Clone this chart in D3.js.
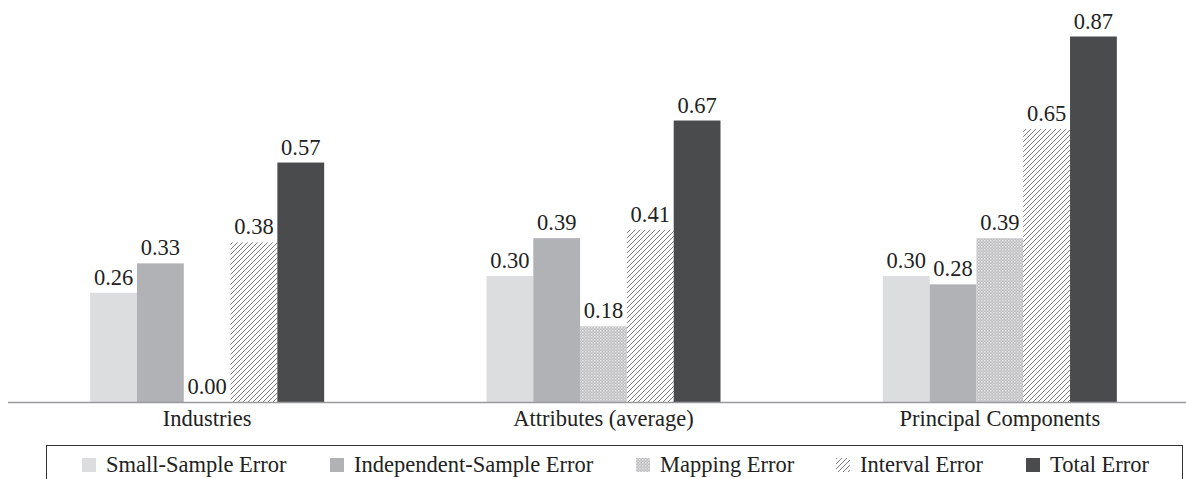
<!DOCTYPE html>
<html><head><meta charset="utf-8">
<script src="https://cdn.jsdelivr.net/npm/d3@7"></script>
<style>body{margin:0;background:#fff}svg{display:block}
svg text{font-family:"Liberation Serif","DejaVu Serif",serif;fill:#222}</style>
</head><body>
<svg id="c" width="1186" height="479"></svg>
<script>
const categories = ["Industries", "Attributes (average)", "Principal Components"];
const seriesNames = ["Small-Sample Error", "Independent-Sample Error", "Mapping Error", "Interval Error", "Total Error"];
const smallSample = [0.26, 0.30, 0.30];
const independentSample = [0.33, 0.39, 0.28];
const mapping = [0.00, 0.18, 0.39];
const interval = [0.38, 0.41, 0.65];
const total = [0.57, 0.67, 0.87];
const seriesValues = [smallSample, independentSample, mapping, interval, total];

const svg = d3.select("#c");
const W = 1186, H = 479;

const defs = svg.append("defs");
const hatch = defs.append("pattern").attr("id","hatch").attr("patternUnits","userSpaceOnUse")
  .attr("width",5).attr("height",5);
hatch.append("rect").attr("width",5).attr("height",5).attr("fill","#fff");
hatch.append("path").attr("d","M-1,1 l2,-2 M0,5 l5,-5 M4,6 l2,-2").attr("stroke","#6e6e70").attr("stroke-width",0.9);
const dots = defs.append("pattern").attr("id","dots").attr("patternUnits","userSpaceOnUse")
  .attr("width",3).attr("height",3);
dots.append("rect").attr("width",3).attr("height",3).attr("fill","#bdbdbf");
dots.append("rect").attr("x",0).attr("y",0).attr("width",1.5).attr("height",1.5).attr("fill","#e6e6e8");
dots.append("rect").attr("x",1.5).attr("y",1.5).attr("width",1.5).attr("height",1.5).attr("fill","#d4d4d6");

const fills = ["#dcdddf", "#b1b2b5", "url(#dots)", "url(#hatch)", "#4a4b4d"];

const baseY = 402;
const y = d3.scaleLinear().domain([0, 0.87]).range([baseY, 36.5]);
const x0 = d3.scaleBand().domain(categories).range([9, 1198]).padding(0);
const groupW = 234;
const x1 = d3.scaleBand().domain(seriesNames).range([0, groupW]).padding(0);

const g = svg.append("g");
categories.forEach((c, ci) => {
  const cx = x0(c) + x0.bandwidth()/2 - groupW/2;
  seriesNames.forEach((s, si) => {
    const v = seriesValues[si][ci];
    const bx = cx + x1(s);
    g.append("rect").attr("x", bx).attr("y", y(v)).attr("width", x1.bandwidth())
      .attr("height", baseY - y(v)).attr("fill", fills[si]);
    g.append("text").attr("x", bx + x1.bandwidth()/2).attr("y", y(v) - 8)
      .attr("text-anchor","middle").style("font-size", "22.5px").text(v.toFixed(2));
  });
});

// axis
const axis = d3.axisBottom(x0).tickSize(0).tickPadding(8);
const ax = svg.append("g").attr("transform", `translate(0,${baseY})`).call(axis);
ax.select(".domain").remove();
ax.attr("font-family", null).attr("font-size", null);
svg.append("line").attr("x1", 8).attr("x2", W).attr("y1", baseY + 0.5).attr("y2", baseY + 0.5)
  .attr("stroke", "#9a9a9c").attr("stroke-width", 1.6);
ax.selectAll("text").style("font-size", "22.5px").attr("fill","#222");

// legend
svg.append("rect").attr("x", 46.5).attr("y", 445.5).attr("width", 1136).attr("height", 40)
  .attr("fill","none").attr("stroke","#333").attr("stroke-width",1);
const legX = [82, 330, 636, 836, 1026];
seriesNames.forEach((s, si) => {
  svg.append("rect").attr("x", legX[si]).attr("y", 458).attr("width", 14).attr("height", 14)
    .attr("fill", fills[si]);
  svg.append("text").attr("x", legX[si] + 24).attr("y", 472).style("font-size", "22.5px").text(s);
});
</script>
</body></html>
